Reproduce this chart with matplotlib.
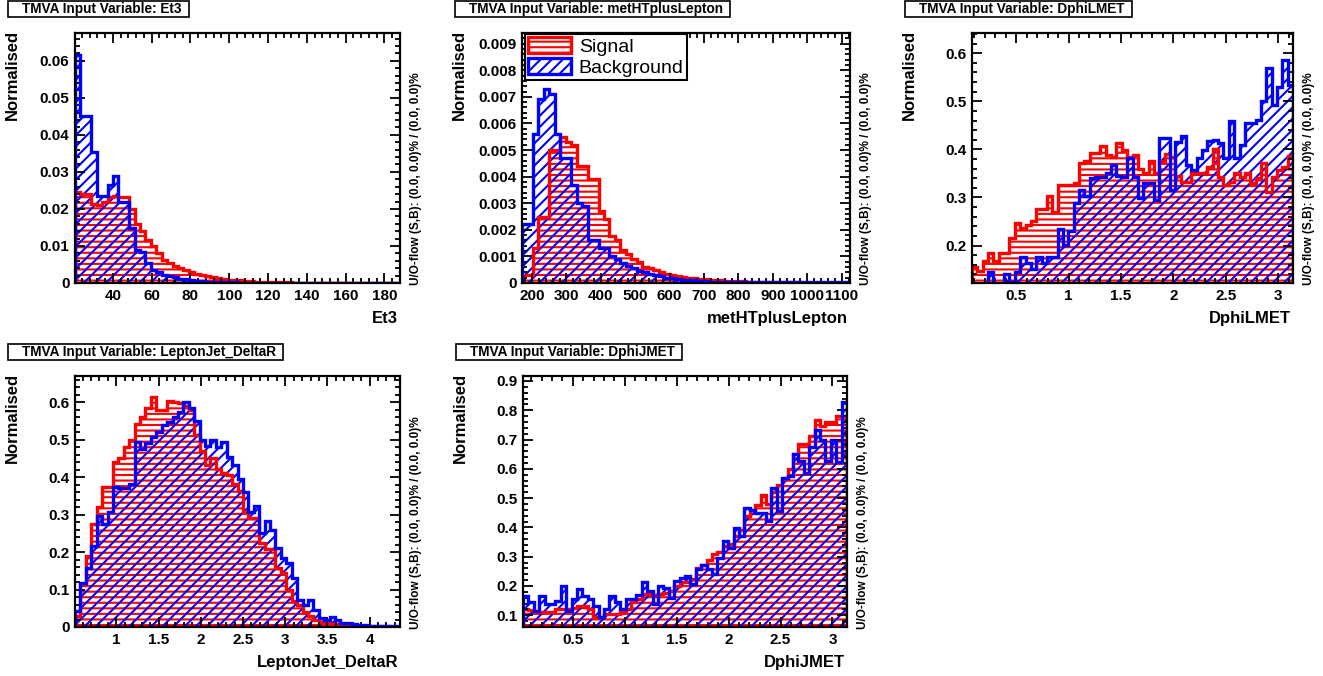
import numpy as np
import matplotlib
matplotlib.use('Agg')
import matplotlib.pyplot as plt
import matplotlib.patches as mpatches
from matplotlib.ticker import MultipleLocator, AutoMinorLocator, FormatStrFormatter

# ---- histogram contents (60 bins each) ----
et3_range = (20.5, 188.0)
et3_sig = [0.0245, 0.0240, 0.0240, 0.0212, 0.0210, 0.0218, 0.0232, 0.0234, 0.0233, 0.0232,
           0.0200, 0.0160, 0.0140, 0.0117, 0.0100, 0.0080, 0.0063, 0.0055, 0.0045, 0.0040,
           0.0034, 0.0030, 0.0025, 0.0022, 0.0018, 0.0016, 0.0013, 0.0011, 0.0009, 0.0008,
           0.0007, 0.0006, 0.0005, 0.0004, 0.0004, 0.0003, 0.0003, 0.0002, 0.0002, 0.0002,
           0.0001, 0.0001, 0.0001, 0.0001, 0.0001, 0.0001, 0.00005, 0.00005, 0.00005, 0.00005,
           0.00005, 0.00005, 0.00005, 0.00005, 0.00005, 0.00005, 0.00005, 0.00005, 0.00005, 0.00005]
et3_bkg = [0.0615, 0.0452, 0.0452, 0.0355, 0.0235, 0.0234, 0.0265, 0.0288, 0.0220, 0.0220,
           0.0148, 0.0090, 0.0085, 0.0054, 0.0036, 0.0030, 0.0022, 0.0018, 0.0015, 0.0012,
           0.0010, 0.0008, 0.0006, 0.0005, 0.0004, 0.0003, 0.0002, 0.0002, 0.0002, 0.0002,
           0.0001, 0.0001, 0.0001, 0.0001, 0.0001, 0.0001, 0.00005, 0.00005, 0.00005, 0.00005,
           0.00005, 0.00005, 0.00005, 0.00005, 0.00005, 0.00005, 0.00005, 0.00005, 0.00005, 0.00005,
           0.00005, 0.00005, 0.00005, 0.00005, 0.00005, 0.00005, 0.00005, 0.00005, 0.00005, 0.00005]

met_range = (171.0, 1124.0)
met_sig = [0.0003, 0.0003, 0.0013, 0.0025, 0.0025, 0.0050, 0.0050, 0.0055, 0.0053, 0.0052,
           0.0044, 0.0044, 0.0039, 0.0039, 0.0027, 0.0024, 0.00175, 0.0016, 0.00125, 0.0011,
           0.0009, 0.0008, 0.0006, 0.00055, 0.00048, 0.0004, 0.00035, 0.0003, 0.00027, 0.00024,
           0.0002, 0.00018, 0.00016, 0.00014, 0.00012, 0.0001, 0.0001, 0.00009, 0.00008, 0.00007,
           0.00006, 0.00005, 0.00004, 0.00004, 0.00003, 0.00003, 0.00003, 0.00002, 0.00002, 0.00002,
           0.00002, 0.00001, 0.00001, 0.00001, 0.00001, 0.00001, 0.00001, 0.00001, 0.00001, 0.00001]
met_bkg = [0.0022, 0.0022, 0.0056, 0.0069, 0.0073, 0.0071, 0.0056, 0.0047, 0.0047, 0.0037,
           0.0030, 0.0029, 0.0016, 0.0016, 0.0013, 0.0013, 0.0010, 0.0009, 0.00075, 0.00065,
           0.00055, 0.00045, 0.0004, 0.00035, 0.0003, 0.00025, 0.0002, 0.00018, 0.00015, 0.00012,
           0.0001, 0.0001, 0.00008, 0.00006, 0.00005, 0.00004, 0.00004, 0.00003, 0.00003, 0.00003,
           0.00002, 0.00002, 0.00002, 0.00002, 0.00002, 0.00002, 0.00002, 0.00002, 0.00002, 0.00002,
           0.00002, 0.00002, 0.00002, 0.00002, 0.00002, 0.00002, 0.00002, 0.00002, 0.00002, 0.00002]

dphil_range = (0.08, 3.14)
dphil_sig = [0.156, 0.148, 0.167, 0.184, 0.167, 0.184, 0.185, 0.215, 0.246, 0.236,
             0.243, 0.250, 0.276, 0.276, 0.302, 0.269, 0.326, 0.326, 0.326, 0.330,
             0.371, 0.375, 0.392, 0.392, 0.406, 0.389, 0.385, 0.414, 0.399, 0.385,
             0.389, 0.360, 0.350, 0.375, 0.350, 0.375, 0.390, 0.385, 0.345, 0.333,
             0.333, 0.350, 0.350, 0.350, 0.364, 0.400, 0.343, 0.326, 0.333, 0.350,
             0.343, 0.350, 0.330, 0.340, 0.371, 0.312, 0.343, 0.357, 0.364, 0.386]
dphil_bkg = [0.110, 0.110, 0.110, 0.144, 0.115, 0.115, 0.140, 0.125, 0.144, 0.177,
             0.163, 0.152, 0.177, 0.163, 0.177, 0.177, 0.234, 0.201, 0.230, 0.288,
             0.316, 0.302, 0.340, 0.343, 0.343, 0.350, 0.368, 0.345, 0.343, 0.381,
             0.343, 0.298, 0.330, 0.330, 0.295, 0.423, 0.423, 0.316, 0.416, 0.427,
             0.368, 0.357, 0.381, 0.399, 0.418, 0.420, 0.413, 0.381, 0.460, 0.381,
             0.409, 0.454, 0.454, 0.461, 0.500, 0.569, 0.492, 0.529, 0.586, 0.534]

dr_range = (0.51, 4.36)
dr_sig = [0.029, 0.114, 0.190, 0.275, 0.320, 0.375, 0.375, 0.440, 0.450, 0.480,
          0.500, 0.543, 0.560, 0.584, 0.615, 0.580, 0.580, 0.603, 0.600, 0.597,
          0.590, 0.580, 0.513, 0.470, 0.432, 0.450, 0.423, 0.410, 0.405, 0.382,
          0.364, 0.306, 0.292, 0.290, 0.225, 0.207, 0.207, 0.157, 0.144, 0.099,
          0.070, 0.060, 0.040, 0.030, 0.020, 0.013, 0.011, 0.009, 0.008, 0.006,
          0.005, 0.004, 0.004, 0.003, 0.003, 0.002, 0.002, 0.002, 0.001, 0.001]
dr_bkg = [0.042, 0.118, 0.158, 0.217, 0.297, 0.275, 0.306, 0.373, 0.371, 0.371,
          0.382, 0.494, 0.476, 0.490, 0.508, 0.521, 0.539, 0.548, 0.561, 0.575,
          0.600, 0.585, 0.549, 0.500, 0.482, 0.500, 0.480, 0.495, 0.454, 0.432,
          0.396, 0.360, 0.306, 0.324, 0.252, 0.283, 0.260, 0.211, 0.184, 0.171,
          0.130, 0.072, 0.060, 0.072, 0.045, 0.025, 0.018, 0.027, 0.020, 0.012,
          0.010, 0.008, 0.006, 0.005, 0.004, 0.004, 0.003, 0.003, 0.004, 0.004]

dphij_range = (0.02, 3.14)
dphij_sig = [0.120, 0.118, 0.110, 0.110, 0.110, 0.110, 0.120, 0.120, 0.120, 0.125,
             0.130, 0.130, 0.120, 0.093, 0.093, 0.105, 0.105, 0.105, 0.115, 0.120,
             0.144, 0.155, 0.173, 0.173, 0.168, 0.173, 0.175, 0.184, 0.200, 0.212,
             0.215, 0.225, 0.263, 0.270, 0.290, 0.309, 0.315, 0.337, 0.345, 0.370,
             0.390, 0.439, 0.460, 0.475, 0.509, 0.480, 0.520, 0.545, 0.564, 0.598,
             0.649, 0.686, 0.686, 0.711, 0.768, 0.745, 0.759, 0.759, 0.779, 0.780]
dphij_bkg = [0.165, 0.144, 0.116, 0.165, 0.139, 0.139, 0.150, 0.200, 0.116, 0.156,
             0.190, 0.165, 0.156, 0.133, 0.093, 0.120, 0.165, 0.147, 0.122, 0.156,
             0.156, 0.170, 0.215, 0.184, 0.139, 0.200, 0.192, 0.160, 0.218, 0.229,
             0.235, 0.207, 0.258, 0.271, 0.258, 0.240, 0.297, 0.354, 0.331, 0.399,
             0.371, 0.467, 0.460, 0.450, 0.450, 0.422, 0.535, 0.456, 0.569, 0.575,
             0.649, 0.626, 0.586, 0.675, 0.732, 0.700, 0.626, 0.700, 0.623, 0.827]

W, H = 1323, 676


def fx(x):
    return x / W


def fy(y):
    return 1 - y / H


def main():
    plt.rcParams['font.family'] = ['Liberation Sans', 'DejaVu Sans']
    plt.rcParams['font.weight'] = 'bold'
    plt.rcParams['hatch.linewidth'] = 1.5

    fig = plt.figure(figsize=(W / 100, H / 100), dpi=100)

    # name, data, range, ylim, x major, y major, rect in pixels (left, top, width, height)
    panels = [
        ('Et3', et3_sig, et3_bkg, et3_range, (0, 0.0675), 20, 0.01, (75, 33, 325, 250)),
        ('metHTplusLepton', met_sig, met_bkg, met_range, (0, 0.0094), 100, 0.001, (522, 33, 328, 250)),
        ('DphiLMET', dphil_sig, dphil_bkg, dphil_range, (0.122, 0.642), 0.5, 0.1, (972, 33, 321, 250)),
        ('LeptonJet_DeltaR', dr_sig, dr_bkg, dr_range, (0, 0.67), 0.5, 0.1, (75, 376, 325, 251)),
        ('DphiJMET', dphij_sig, dphij_bkg, dphij_range, (0.06, 0.917), 0.5, 0.1, (523, 376, 324, 251)),
    ]

    titles = []
    for name, sig, bkg, rng, ylim, xmaj, ymaj, (l, t, w, h) in panels:
        ax = fig.add_axes([fx(l), fy(t + h), w / W, h / H])
        edges = np.linspace(rng[0], rng[1], len(sig) + 1)

        # hatched fills first, then the outlines on top
        ax.stairs(sig, edges, baseline=0, fill=True, facecolor='none', edgecolor='red',
                  hatch='---', linewidth=0, zorder=1)
        ax.stairs(bkg, edges, baseline=0, fill=True, facecolor='none', edgecolor='blue',
                  hatch='///', linewidth=0, zorder=1.1)
        ax.stairs(sig, edges, baseline=0, color='red', linewidth=2.4, zorder=1.5)
        ax.stairs(bkg, edges, baseline=0, color='blue', linewidth=2.4, zorder=1.6)

        ax.set_xlim(rng)
        ax.set_ylim(ylim)
        ax.xaxis.set_major_locator(MultipleLocator(xmaj))
        ax.yaxis.set_major_locator(MultipleLocator(ymaj))
        ax.xaxis.set_minor_locator(AutoMinorLocator(5))
        ax.yaxis.set_minor_locator(AutoMinorLocator(5))
        ax.xaxis.set_major_formatter(FormatStrFormatter('%g'))
        ax.yaxis.set_major_formatter(FormatStrFormatter('%g'))
        ax.tick_params(which='both', direction='in', top=True, right=True, width=1.3,
                       labelsize=11, pad=4)
        ax.tick_params(which='major', length=7)
        ax.tick_params(which='minor', length=3.5)
        for s in ax.spines.values():
            s.set_linewidth(1.6)

        if name == 'metHTplusLepton':
            handles = [mpatches.Patch(facecolor='white', edgecolor='red', hatch='---', linewidth=2.4, label='Signal'),
                       mpatches.Patch(facecolor='white', edgecolor='blue', hatch='///', linewidth=2.4, label='Background')]
            leg = ax.legend(handles=handles, loc='upper left', bbox_to_anchor=(0.01, 0.995),
                            borderaxespad=0, fancybox=False, framealpha=1, edgecolor='black',
                            prop={'size': 14, 'weight': 'normal'}, handlelength=2.2,
                            handleheight=0.9, labelspacing=0.1, borderpad=0.15, handletextpad=0.4)
            leg.get_frame().set_linewidth(1.5)

        # axis titles, ROOT style
        fig.text(fx(l - 63), fy(t - 3), 'Normalised', rotation=90, ha='center', va='top', fontsize=12)
        fig.text(fx(l + w - 2), fy(t + h + 35), name, ha='right', va='center', fontsize=12)
        fig.text(fx(l + w + 16), fy(t + h + 2), 'U/O-flow (S,B): (0.0, 0.0)% / (0.0, 0.0)%',
                 rotation=90, ha='center', va='bottom', fontsize=8.5)
        titles.append(fig.text(fx(l - 53), fy(t - 24), 'TMVA Input Variable: ' + name,
                               ha='left', va='center', fontsize=9.8))

    # boxes around the panel titles
    fig.canvas.draw()
    r = fig.canvas.get_renderer()
    inv = fig.transFigure.inverted()
    for txt in titles:
        bb = txt.get_window_extent(r)
        x0, y0 = inv.transform((bb.x0 - 14, bb.y0 - 1))
        x1, y1 = inv.transform((bb.x1 + 7, bb.y1 + 1))
        fig.add_artist(mpatches.Rectangle((x0, y0), x1 - x0, y1 - y0, transform=fig.transFigure,
                                          facecolor='none', edgecolor='black', linewidth=1.2))

    fig.savefig('out.png', dpi=100)


if __name__ == '__main__':
    main()
